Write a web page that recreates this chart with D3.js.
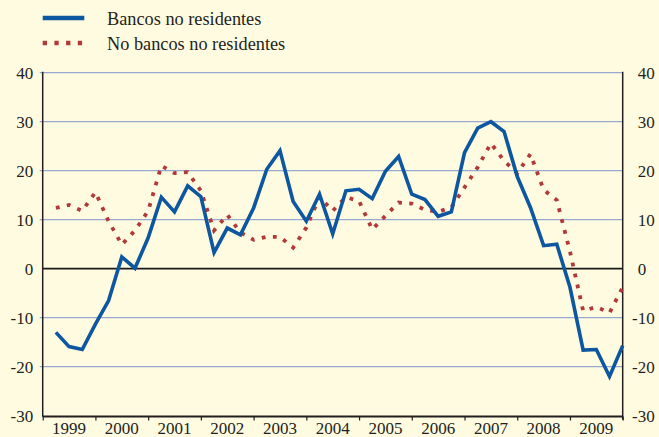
<!DOCTYPE html>
<html>
<head>
<meta charset="utf-8">
<script src="https://cdn.jsdelivr.net/npm/d3@7"></script>
<style>
  html, body { margin: 0; padding: 0; background: #FFFBE1; }
  svg { display: block; }
  text { font-family: "Liberation Serif", "Times New Roman", serif; fill: #231F20; }
</style>
</head>
<body>
<svg id="chart" width="659" height="437"></svg>
<script>
// ---- data (quarterly, 1999Q1 .. 2009Q4) ----
const years = [1999, 2000, 2001, 2002, 2003, 2004, 2005, 2006, 2007, 2008, 2009];
const yTicks = [-30, -20, -10, 0, 10, 20, 30, 40];
const seriesNames = ["Bancos no residentes", "No bancos no residentes"];
const bancos = [
  -13.0, -15.9, -16.5, -11.3,
  -6.5, 2.4, 0.1, 6.3,
  14.6, 11.6, 16.9, 14.7,
  3.3, 8.3, 6.9, 12.4,
  20.3, 24.1, 13.7, 9.7,
  15.2, 7.1, 15.9, 16.2,
  14.3, 19.9, 22.9, 15.2,
  14.1, 10.7, 11.6, 23.7,
  28.7, 30.0, 28.0, 18.8,
  12.5, 4.7, 5.0, -3.8,
  -16.6, -16.5, -22.0, -15.7
];
const noBancos = [
  12.4, 13.0, 11.8, 15.6,
  9.7, 4.9, 7.8, 11.8,
  21.0, 19.5, 19.7, 15.9,
  7.8, 11.0, 7.4, 5.9,
  6.5, 6.5, 4.3, 8.4,
  14.6, 11.8, 14.6, 13.8,
  8.0, 10.8, 13.5, 13.3,
  12.0, 11.6, 12.5, 16.6,
  20.7, 25.6, 22.0, 19.5,
  23.4, 16.1, 14.0, 3.5,
  -8.6, -7.8, -9.0, -3.8
];

// ---- layout ----
const svg = d3.select("#chart");
const pL = 42.7, pR = 622.7, pT = 72.7, pB = 415.7;
const x = d3.scaleLinear().domain([1999, 2010]).range([pL, pR]);
const y = d3.scaleLinear().domain([-30, 40]).range([pB, pT]);
const tOf = i => 1999 + (i + 1) / 4;
const fmt = d => String(d);  // plain hyphen-minus as in the original

const gridColor = "#97A9D0";
const blue = "#0D56A0";
const red = "#B2393A";

// gridlines
svg.append("g").selectAll("line")
  .data(yTicks.filter(v => v !== 0 && v !== -30))
  .join("line")
  .attr("x1", pL - 3).attr("x2", pR)
  .attr("y1", d => y(d)).attr("y2", d => y(d))
  .attr("stroke", gridColor).attr("stroke-width", 1.2);

// left axis labels
const leftAxis = d3.axisLeft(y).tickValues(yTicks).tickFormat(fmt).tickSize(0).tickPadding(9.5);
const gl = svg.append("g").attr("transform", `translate(${pL},0)`).call(leftAxis);
gl.select(".domain").remove();
gl.selectAll("text").style("font-size", "17px").attr("fill", "#231F20").attr("font-family", null).attr("dy", "0.34em");

// right axis labels
const rightAxis = d3.axisRight(y).tickValues(yTicks).tickFormat(fmt).tickSize(0).tickPadding(15);
const gr = svg.append("g").attr("transform", `translate(${pR},0)`).call(rightAxis);
gr.select(".domain").remove();
gr.selectAll("text").style("font-size", "17px").attr("fill", "#231F20").attr("font-family", null)
  .attr("dy", "0.34em")
  .attr("dx", d => d < 0 ? -5.7 : 0);

// zero line
svg.append("line")
  .attr("x1", pL).attr("x2", pR)
  .attr("y1", y(0)).attr("y2", y(0))
  .attr("stroke", "#1A1A1A").attr("stroke-width", 1.8);

// vertical axis lines
svg.append("line").attr("x1", pL).attr("x2", pL).attr("y1", pT - 1).attr("y2", pB + 1)
  .attr("stroke", "#231F20").attr("stroke-width", 1.5);
svg.append("line").attr("x1", pR).attr("x2", pR).attr("y1", pT - 1).attr("y2", pB + 4)
  .attr("stroke", "#231F20").attr("stroke-width", 1.5);

// bottom axis
const xAxis = d3.axisBottom(x)
  .tickValues(d3.range(1999, 2011))
  .tickSize(4).tickFormat("");
const gx = svg.append("g").attr("transform", `translate(0,${pB + 0.8})`).call(xAxis);
gx.select(".domain").attr("stroke", "#231F20").attr("stroke-width", 1.8).attr("d", `M${pL},0H${pR}`);
gx.selectAll(".tick line").attr("stroke", "#231F20").attr("stroke-width", 1.2);
// year labels (centered in each year)
svg.append("g").selectAll("text")
  .data(years)
  .join("text")
  .attr("x", d => x(d + 0.5))
  .attr("y", 433.5)
  .attr("text-anchor", "middle")
  .style("font-size", "17px")
  .text(d => d);

// lines
const line = d3.line().x((d, i) => x(tOf(i))).y(d => y(d));
svg.append("path").datum(noBancos)
  .attr("d", line).attr("fill", "none")
  .attr("stroke", red).attr("stroke-width", 3.8)
  .attr("stroke-dasharray", "3.8,7.4");
svg.append("path").datum(bancos)
  .attr("d", line).attr("fill", "none")
  .attr("stroke", blue).attr("stroke-width", 3.6)
  .attr("stroke-linejoin", "miter");

// legend
const leg = svg.append("g");
leg.append("line").attr("x1", 42.7).attr("x2", 84.3).attr("y1", 18).attr("y2", 18)
  .attr("stroke", blue).attr("stroke-width", 4.3);
leg.append("line").attr("x1", 42.7).attr("x2", 84.3).attr("y1", 43).attr("y2", 43)
  .attr("stroke", red).attr("stroke-width", 4.3).attr("stroke-dasharray", "4.3,7.4");
leg.selectAll("text.lg").data(seriesNames).join("text")
  .attr("class", "lg")
  .attr("x", 107).attr("y", (d, i) => 25 + i * 25)
  .style("font-size", "18.3px")
  .text(d => d);
</script>
</body>
</html>
